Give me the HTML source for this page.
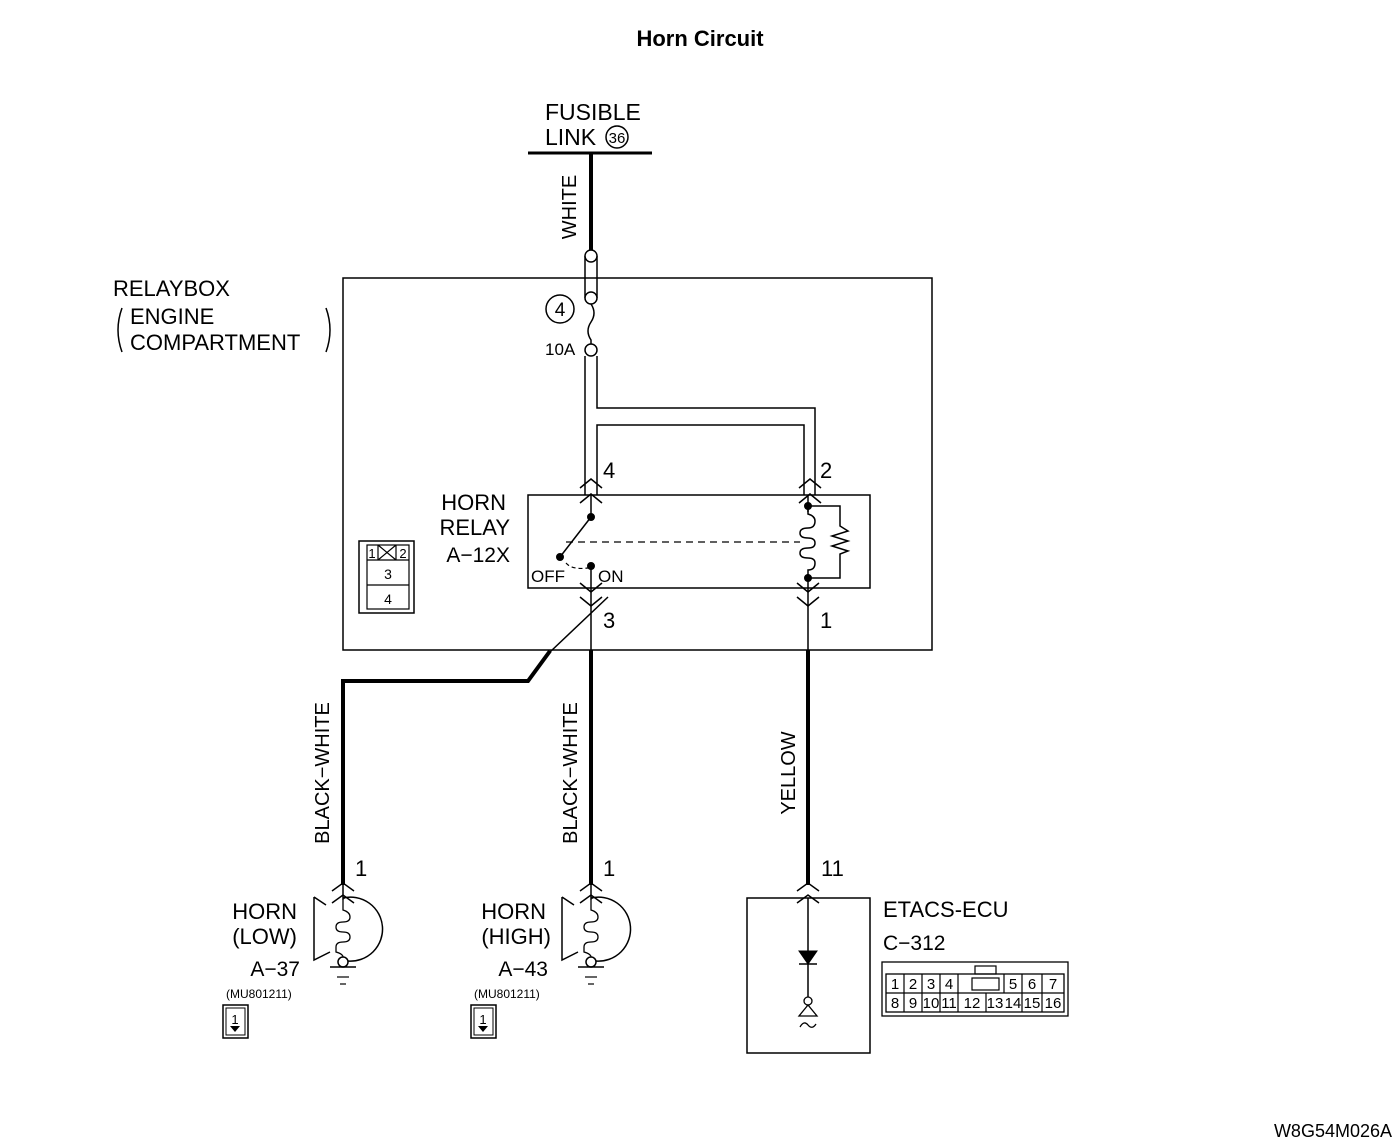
<!DOCTYPE html>
<html><head><meta charset="utf-8"><style>body{margin:0;background:#fff}svg{display:block}text{font-family:"Liberation Sans",sans-serif;fill:#000}</style></head><body>
<svg width="1400" height="1147" viewBox="0 0 1400 1147" xmlns="http://www.w3.org/2000/svg">
<g fill="none" stroke="#000">
<text x="700" y="46" font-size="22" font-weight="bold" text-anchor="middle" stroke="none">Horn Circuit</text>
<text x="545" y="120" font-size="23" stroke="none">FUSIBLE</text>
<text x="545" y="145" font-size="23" stroke="none">LINK</text>
<circle cx="617" cy="137" r="11" stroke-width="1.5"/>
<text x="617" y="143" font-size="15" text-anchor="middle" stroke="none">36</text>
<line x1="528" y1="153" x2="652" y2="153" stroke-width="3"/>
<line x1="591" y1="153" x2="591" y2="250" stroke-width="4"/>
<text transform="translate(576,207) rotate(-90)" font-size="20" text-anchor="middle" stroke="none">WHITE</text>
<rect x="343" y="278" width="589" height="372" stroke-width="1.5"/>
<text x="113" y="296" font-size="22" stroke="none">RELAYBOX</text>
<text x="130" y="324" font-size="22" stroke="none">ENGINE</text>
<text x="130" y="350" font-size="22" stroke="none">COMPARTMENT</text>
<path d="M122,308 Q114,330 122,352 M326,308 Q334,330 326,352" stroke-width="1.5"/>
<line x1="585" y1="256" x2="585" y2="298" stroke-width="1.5"/>
<line x1="597" y1="256" x2="597" y2="298" stroke-width="1.5"/>
<circle cx="591" cy="256" r="6" fill="#fff" stroke-width="1.5"/>
<circle cx="591" cy="298" r="6" fill="#fff" stroke-width="1.5"/>
<path d="M591,304 Q597,313 591,322 Q585,331 591,340 L591,345" stroke-width="1.5"/>
<circle cx="591" cy="350" r="6" fill="#fff" stroke-width="1.5"/>
<circle cx="560" cy="309" r="14" stroke-width="1.5"/>
<text x="560" y="316" font-size="19" text-anchor="middle" stroke="none">4</text>
<text x="545" y="355" font-size="17" stroke="none">10A</text>
<path d="M585,356 V495 M597,356 V408 H815 V495 M597,495 V425 H804 V495" stroke-width="1.5"/>
<path d="M580,488 L591,479 L602,488 M799,488 L810,479 L821,488 M580,503 L591,494 L602,503 M799,503 L810,494 L821,503" stroke-width="1.5"/>
<text x="603" y="478" font-size="22" stroke="none">4</text>
<text x="820" y="478" font-size="22" stroke="none">2</text>
<rect x="528" y="495" width="342" height="93" stroke-width="1.5"/>
<text x="506" y="510" font-size="22" text-anchor="end" stroke="none">HORN</text>
<text x="510" y="535" font-size="22" text-anchor="end" stroke="none">RELAY</text>
<text x="510" y="562" font-size="21" text-anchor="end" stroke="none">A−12X</text>
<line x1="591" y1="495" x2="591" y2="517" stroke-width="1.5"/>
<line x1="591" y1="517" x2="560" y2="557" stroke-width="1.5"/>
<circle cx="591" cy="517" r="3.5" fill="#000"/>
<circle cx="560" cy="557" r="3.5" fill="#000"/>
<circle cx="591" cy="566" r="3.5" fill="#000"/>
<line x1="591" y1="566" x2="591" y2="600" stroke-width="1.5"/>
<path d="M566,542 H800" stroke-dasharray="7,5" stroke-width="1.3"/>
<path d="M566,563 Q572,570 588,568" stroke-dasharray="4,3" stroke-width="1.2"/>
<text x="531" y="582" font-size="17" stroke="none">OFF</text>
<text x="598" y="582" font-size="17" stroke="none">ON</text>
<line x1="808" y1="495" x2="808" y2="600" stroke="#000" stroke-width="1.5"/>
<rect x="800" y="512" width="18" height="62" fill="#fff" stroke="none"/>
<path d="M808,506 V514 Q815,516 815,521 Q815,528 808,528 Q800,528 800,533 Q800,538 808,538 Q815,538 815,543 Q815,548 808,548 Q800,548 800,553 Q800,558 808,558 Q815,558 815,563 Q815,570 808,570 V578" stroke-width="1.5"/>
<path d="M808,506 H840 V526 L848,531 L832,536 L848,541 L832,546 L848,551 L840,554 V578 H808" stroke-width="1.5"/>
<circle cx="808" cy="506" r="3.5" fill="#000"/>
<circle cx="808" cy="578" r="3.5" fill="#000"/>
<path d="M580,583 L591,592 L602,583 M797,583 L808,592 L819,583 M580,597 L591,606 L602,597 M797,597 L808,606 L819,597" stroke-width="1.5"/>
<text x="603" y="628" font-size="22" stroke="none">3</text>
<text x="820" y="628" font-size="22" stroke="none">1</text>
<line x1="608" y1="597" x2="550" y2="652" stroke-width="1.5"/>
<line x1="591" y1="600" x2="591" y2="650" stroke-width="1.5"/>
<line x1="808" y1="600" x2="808" y2="650" stroke-width="1.5"/>
<rect x="359" y="541" width="55" height="72" stroke-width="1.5"/>
<rect x="367" y="545" width="42" height="64" stroke-width="1.2"/>
<line x1="367" y1="560" x2="409" y2="560" stroke-width="1.2"/>
<line x1="367" y1="585" x2="409" y2="585" stroke-width="1.2"/>
<path d="M378,545 V560 M396,545 V560 M378,545 L396,560 M396,545 L378,560" stroke-width="1.2"/>
<text x="372" y="558" font-size="13" text-anchor="middle" stroke="none">1</text>
<text x="403" y="558" font-size="13" text-anchor="middle" stroke="none">2</text>
<text x="388" y="579" font-size="14" text-anchor="middle" stroke="none">3</text>
<text x="388" y="604" font-size="14" text-anchor="middle" stroke="none">4</text>
<path d="M550,651 L528,681 H343 V885" stroke-width="4"/>
<line x1="591" y1="650" x2="591" y2="885" stroke-width="4"/>
<line x1="808" y1="650" x2="808" y2="885" stroke-width="4"/>
<text transform="translate(329,773) rotate(-90)" font-size="20" text-anchor="middle" stroke="none">BLACK−WHITE</text>
<text transform="translate(577,773) rotate(-90)" font-size="20" text-anchor="middle" stroke="none">BLACK−WHITE</text>
<text transform="translate(795,773) rotate(-90)" font-size="20" text-anchor="middle" stroke="none">YELLOW</text>
<text x="355" y="876" font-size="22" stroke="none">1</text>
<text x="603" y="876" font-size="22" stroke="none">1</text>
<text x="821" y="876" font-size="22" stroke="none">11</text>
<g id="horn">
<path d="M332,891 L343,883 L354,891 M332,903 L343,895 L354,903" stroke-width="1.5"/>
<line x1="343" y1="885" x2="343" y2="900" stroke-width="1.5"/>
<path d="M343,898 A32,32 0 1 1 348,961" stroke-width="1.5"/>
<path d="M343,898 H345 M314,897 L326,905 M314,897 V960 L330,952" stroke-width="1.5"/>
<path d="M343,900 V910 Q350,912 350,917 Q350,922 343,922 Q336,922 336,927 Q336,932 343,932 Q350,932 350,937 Q350,942 343,942 Q336,942 336,947 V952 Q343,954 343,957" stroke-width="1.3"/>
<circle cx="343" cy="962" r="5" fill="#fff" stroke-width="1.5"/>
<line x1="330" y1="967" x2="356" y2="967" stroke-width="1.5"/>
<line x1="337" y1="977" x2="349" y2="977" stroke-width="1.2"/>
<line x1="340" y1="984" x2="346" y2="984" stroke-width="1.2"/>
<rect x="223" y="1005" width="25" height="33" stroke-width="1.5"/>
<rect x="226" y="1008" width="19" height="27" stroke-width="1"/>
<text x="235" y="1024" font-size="13" text-anchor="middle" stroke="none">1</text>
<path d="M230,1026 H240 L235,1032 Z" fill="#000" stroke="none"/>
<text x="226" y="998" font-size="12" stroke="none">(MU801211)</text>
</g>
<use href="#horn" x="248"/>
<text x="297" y="919" font-size="22" text-anchor="end" stroke="none">HORN</text>
<text x="297" y="944" font-size="22" text-anchor="end" stroke="none">(LOW)</text>
<text x="300" y="976" font-size="21" text-anchor="end" stroke="none">A−37</text>
<text x="546" y="919" font-size="22" text-anchor="end" stroke="none">HORN</text>
<text x="551" y="944" font-size="22" text-anchor="end" stroke="none">(HIGH)</text>
<text x="548" y="976" font-size="21" text-anchor="end" stroke="none">A−43</text>
<path d="M797,891 L808,883 L819,891 M797,903 L808,895 L819,903" stroke-width="1.5"/>
<rect x="747" y="898" width="123" height="155" stroke-width="1.5"/>
<line x1="808" y1="898" x2="808" y2="997" stroke-width="1.5"/>
<path d="M799,951 H817 L808,964 Z" fill="#000"/>
<line x1="799" y1="964" x2="817" y2="964" stroke-width="1.5"/>
<circle cx="808" cy="1001" r="4" fill="#fff" stroke-width="1.3"/>
<path d="M808,1005 L799,1016 H817 Z" stroke-width="1.3"/>
<path d="M800,1027 Q804,1020 808,1025 Q812,1030 816,1024" stroke-width="1.3"/>
<text x="883" y="917" font-size="22" stroke="none">ETACS-ECU</text>
<text x="883" y="950" font-size="21" stroke="none">C−312</text>
<rect x="882" y="962" width="186" height="54" stroke-width="1.3"/>
<rect x="886" y="974" width="178" height="38" stroke-width="1.3"/>
<line x1="886" y1="993" x2="1064" y2="993" stroke-width="1.2"/>
<path d="M904,974 V1012 M922,974 V1012 M940,974 V1012 M958,974 V1012 M1004,974 V993 M986,993 V1012 M1022,974 V1012 M1042,974 V1012" stroke-width="1.2"/>
<rect x="975" y="966" width="21" height="8" stroke-width="1.2"/>
<rect x="972" y="978" width="27" height="12" stroke-width="1.2"/>
<g font-size="15" text-anchor="middle" stroke="none">
<text x="895" y="989">1</text><text x="913" y="989">2</text><text x="931" y="989">3</text><text x="949" y="989">4</text>
<text x="1013" y="989">5</text><text x="1032" y="989">6</text><text x="1053" y="989">7</text>
<text x="895" y="1008">8</text><text x="913" y="1008">9</text><text x="931" y="1008">10</text><text x="949" y="1008">11</text>
<text x="972" y="1008">12</text><text x="995" y="1008">13</text><text x="1013" y="1008">14</text><text x="1032" y="1008">15</text><text x="1053" y="1008">16</text>
</g>
<text x="1392" y="1137" font-size="18" text-anchor="end" stroke="none">W8G54M026A</text>
</g>
</svg>
</body></html>
